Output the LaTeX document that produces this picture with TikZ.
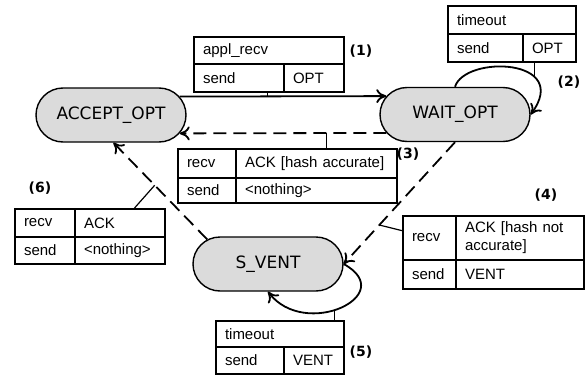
\documentclass[tikz,border=0pt]{standalone}
\usepackage{fontspec}
\setmainfont{Liberation Sans}
\newfontfamily\statefont{DejaVu Sans}
\usetikzlibrary{shapes.misc,arrows.meta,calc}
\newcommand{\tcell}[6]{%
  \pgfmathsetmacro\tcw{#4-18}%
  \node[cellbox,minimum width=#4 pt,minimum height=#5 pt,text width=\tcw pt] (#1) at (#2,#3) {#6};}
\begin{document}
\begin{tikzpicture}[x=1pt,y=-1pt,
  cellbox/.style={draw,line width=2pt,anchor=north west,inner xsep=9pt,inner ysep=0pt,align=left,
    font=\fontsize{15}{18}\selectfont},
  state/.style={rounded rectangle,draw,line width=1.4pt,fill=black!14,minimum width=150pt,
    minimum height=54pt,inner sep=0pt,font=\statefont\fontsize{17}{20}\selectfont},
  arr/.style={-{To[length=10pt,width=14pt]},line width=1.8pt},
  dsh/.style={arr,dash pattern=on 13pt off 7pt},
  tick/.style={line width=1.2pt},
  lbl/.style={font=\statefont\fontsize{14}{16}\selectfont\bfseries,inner sep=0pt}]
\useasboundingbox (0,0) rectangle (587,375);

% states
\node[state] (acc) at (111,115) {ACCEPT\_OPT};
\node[state] (wait) at (455,114.5) {WAIT\_OPT};
\node[state] (vent) at (268,264) {S\_VENT};

% table (1)
\tcell{t1a}{193}{36}{150}{27}{appl\_recv}
\tcell{t1b}{193}{63}{90}{28}{send}
\tcell{t1c}{283}{63}{60}{28}{OPT}
% table (2)
\tcell{t2a}{447}{5}{128}{28}{timeout}
\tcell{t2b}{447}{33}{75}{28}{send}
\tcell{t2c}{522}{33}{53}{28}{OPT}
% table (3)
\tcell{t3a}{177}{148}{58}{29}{recv}
\tcell{t3b}{235}{148}{161}{29}{ACK [hash accurate]}
\tcell{t3c}{177}{177}{58}{25}{send}
\tcell{t3d}{235}{177}{161}{25}{<nothing>}
% table (4)
\tcell{t4a}{402}{215}{53}{44}{recv}
\tcell{t4b}{455}{215}{128}{44}{ACK [hash not\\accurate]}
\tcell{t4c}{402}{259}{53}{29}{send}
\tcell{t4d}{455}{259}{128}{29}{VENT}
% table (5)
\tcell{t5a}{215}{320}{128}{26}{timeout}
\tcell{t5b}{215}{346}{68}{27}{send}
\tcell{t5c}{283}{346}{60}{27}{VENT}
% table (6)
\tcell{t6a}{14}{208}{60}{28}{recv}
\tcell{t6b}{74}{208}{90}{28}{ACK}
\tcell{t6c}{14}{236}{60}{27}{send}
\tcell{t6d}{74}{236}{90}{27}{<nothing>}

% transitions
\draw[arr] (acc.15) -- (wait.165) coordinate[pos=0.426] (k1);
\draw[tick] (k1) -- (k1 |- t1b.south);

\draw[arr] (wait.north) .. controls (465,55) and (572,58) .. (wait.east) coordinate[pos=0.7] (k2);
\draw[tick] (k2) -- (k2 |- t2c.south);

\draw[dsh] (wait.195) -- (acc.-15) coordinate[pos=0.29] (k3);
\draw[tick] (k3) -- (k3 |- t3b.north);

\draw[dsh] (wait.south) -- (vent.east) coordinate[pos=0.68] (k4);
\draw[tick] (k4) -- ($(t4a.north west)!0.34!(t4a.south west)$);

\draw[arr] (vent.east) .. controls (400,295) and (305,340) .. (vent.south) coordinate[pos=0.55] (k5);
\draw[tick] (k5) -- (k5 |- t5a.north);

\draw[dsh] (vent.158) -- (acc.-85) coordinate[pos=0.56] (k6);
\draw[tick] (k6) -- ($(t6a.north west)!0.793!(t6b.north east)$);

% labels
\node[lbl] (l1) at (361,51) {(1)};
\node[lbl] (l2) at (569,82) {(2)};
\node[lbl] (l3) at (408,154) {(3)};
\node[lbl] (l4) at (546,195) {(4)};
\node[lbl] (l5) at (361,352) {(5)};
\node[lbl] (l6) at (40,188) {(6)};
\end{tikzpicture}
\end{document}
